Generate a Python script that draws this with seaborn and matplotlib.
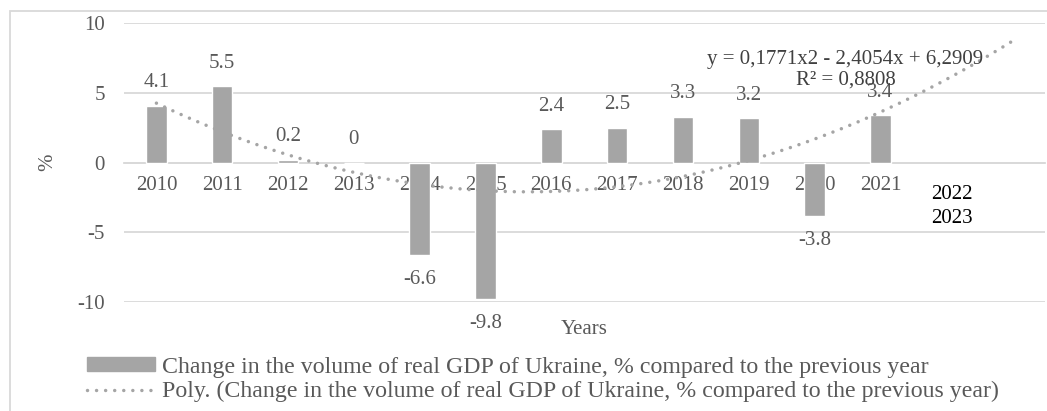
import matplotlib
matplotlib.use('Agg')
import matplotlib.pyplot as plt
import matplotlib.patches as mpatches
from matplotlib.lines import Line2D
import numpy as np
import pandas as pd
import seaborn as sns

### Data

years = ['2010', '2011', '2012', '2013', '2014', '2015', '2016', '2017',
         '2018', '2019', '2020', '2021', '2022', '2023']
gdp_years = ['2010', '2011', '2012', '2013', '2014', '2015', '2016', '2017',
             '2018', '2019', '2020', '2021']
gdp_change = [4.1, 5.5, 0.2, 0, -6.6, -9.8, 2.4, 2.5, 3.3, 3.2, -3.8, 3.4]
# trend as drawn on the chart (x = 1 for 2010)
trend_coef = [0.1997, -2.654, 6.724]
eq_text = 'y = 0,1771x2 - 2,4054x + 6,2909\nR² = 0,8808'
series_name = 'Change in the volume of real GDP of Ukraine, % compared to the previous year'

BAR = '#a5a5a5'
TXT = '#595959'
GRID = '#d9d9d9'
FS = 15
FS_LEG = 17.2

sns.set_theme(style='white')
plt.rcParams['font.family'] = ['Liberation Serif', 'DejaVu Serif']
plt.rcParams['axes.unicode_minus'] = False

df = pd.DataFrame({'year': gdp_years, 'value': gdp_change})

fig = plt.figure(figsize=(10.47, 4.11), dpi=100)
ax = fig.add_axes([123.5 / 1047, 1 - 302 / 411, 921.5 / 1047, 278.7 / 411])

# outer chart border (right and bottom are cut off in the original)
fig.patches.append(mpatches.Rectangle((10 / 1047, -0.1), 1.2, 1 - 11 / 411 + 0.1,
                                      transform=fig.transFigure, fill=False,
                                      edgecolor=GRID, linewidth=1.3))

sns.barplot(data=df, x='year', y='value', order=years, color=BAR,
            width=0.31, saturation=1, ax=ax, zorder=3)

# trend line
xs = np.linspace(0, 13, 300)
ax.plot(xs, np.polyval(trend_coef, xs + 1), color=BAR, linewidth=2.5,
        linestyle=(0, (0.01, 2.6)), dash_capstyle='round', zorder=4)

# data labels
for i, v in enumerate(gdp_change):
    off = 16.5 if v >= 0 else -17.8
    ax.annotate(f'{v:g}', (i, v), xytext=(0, off), textcoords='offset points',
                ha='center', va='center', fontsize=FS, color=TXT, zorder=5)

ax.set_ylim(-10, 10)
ax.set_xlim(-0.5, 13.5)
ax.set_yticks([-10, -5, 0, 5, 10])
ax.yaxis.grid(True, color=GRID, linewidth=1.3, zorder=0)
ax.set_axisbelow(True)
for s in ['top', 'right', 'left']:
    ax.spines[s].set_visible(False)
ax.spines['bottom'].set_position(('data', 0))
ax.spines['bottom'].set_color(GRID)
ax.spines['bottom'].set_linewidth(1.3)

ax.set_xticks(range(len(years)))
ax.set_xticklabels(gdp_years + ['', ''])
ax.tick_params(axis='x', length=0, pad=9.3, labelsize=FS, labelcolor=TXT)
ax.tick_params(axis='y', length=0, pad=13.3, labelsize=FS, labelcolor=TXT)

ax.set_ylabel('%', fontsize=FS, color=TXT)
ax.yaxis.set_label_coords(-0.072, 0.5)
ax.set_xlabel('Years', fontsize=FS, color=TXT)
ax.xaxis.label.set_va('center')
ax.xaxis.set_label_coords(0.5, -0.1)

# labels added by hand on the original
ax.text(12.08, -3.15, '2022\n2023', ha='center', va='center', fontsize=FS,
        color='black', linespacing=1.3)
ax.text(10.47, 6.68, eq_text, ha='center', va='center', fontsize=FS,
        color='#404040', linespacing=1.1, zorder=6)

handles = [mpatches.Patch(color=BAR),
           Line2D([0], [0], color=BAR, linewidth=2.5, linestyle=(0, (0.01, 2.6)),
                  dash_capstyle='round')]
labels = [series_name, f'Poly. ({series_name})']
fig.legend(handles, labels, loc='center left', bbox_to_anchor=(87 / 1047, 1 - 379.5 / 411),
           frameon=False, fontsize=FS_LEG, labelcolor=TXT, handlelength=2.85,
           handleheight=0.5, handletextpad=0.3, labelspacing=0.15,
           borderpad=0, borderaxespad=0)

fig.savefig('out.png', dpi=100)
